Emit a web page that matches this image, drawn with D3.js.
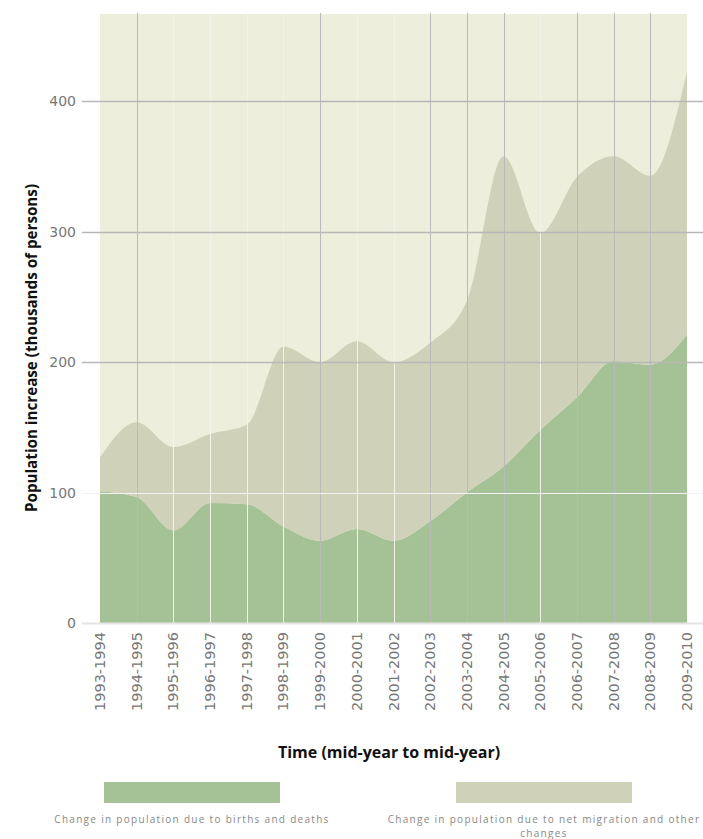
<!DOCTYPE html>
<html><head><meta charset="utf-8">
<script src="https://cdn.jsdelivr.net/npm/d3@7"></script>
<style>html,body{margin:0;padding:0;background:#fff;}svg{display:block;}</style>
</head><body>
<svg id="chart" width="703" height="839"></svg>
<script>
const categories = ["1993-1994","1994-1995","1995-1996","1996-1997","1997-1998","1998-1999","1999-2000","2000-2001","2001-2002","2002-2003","2003-2004","2004-2005","2005-2006","2006-2007","2007-2008","2008-2009","2009-2010"];
const birthsDeaths = [101, 96.5, 71, 92, 91, 74, 63, 72, 63, 78, 100, 120, 148, 173, 201, 198, 221];
const migration   = [26, 57.5, 64, 53, 61, 138, 137, 144, 137, 137, 147, 238, 151, 169, 157, 145, 202];
const yTicks = [0, 100, 200, 300, 400];
const seriesNames = ["Change in population due to births and deaths", "Change in population due to net migration and other changes"];

const colors = {bg:"#edeedb", births:"#a5c296", migr:"#cfd2b8"};
const svg = d3.select("#chart");
const x = d3.scalePoint().domain(categories).range([100, 687]);
const y = d3.scaleLinear().domain([0, 467]).range([623, 14]);

const rows = categories.map((c,i)=>({cat:c, births:birthsDeaths[i], migr:migration[i]}));
const stacked = d3.stack().keys(["births","migr"])(rows);

svg.append("rect").attr("x",100).attr("y",14).attr("width",587).attr("height",609).attr("fill",colors.bg);

const area = d3.area().x((d,i)=>x(categories[i])).y0(d=>y(d[0])).y1(d=>y(d[1])).curve(d3.curveMonotoneX);
svg.selectAll("path.layer").data(stacked).join("path").attr("class","layer")
  .attr("d", area).attr("fill",(d,i)=> i===0?colors.births:colors.migr);

// vertical grid
const greyIdx = new Set([1,6,9,10,11,13,14,15]);
svg.append("g").selectAll("line").data(categories.slice(1,-1)).join("line")
  .attr("x1",d=>Math.round(x(d))+0.5).attr("x2",d=>Math.round(x(d))+0.5)
  .attr("y1",13).attr("y2",623)
  .attr("stroke",(d,i)=> greyIdx.has(i+1)?"#bababa":"#f3f3ea").attr("stroke-width",1);

// horizontal grid
svg.append("g").selectAll("line").data(yTicks).join("line")
  .attr("x1",82).attr("x2",703)
  .attr("y1",d=>Math.round(y(d))+0.5).attr("y2",d=>Math.round(y(d))+0.5)
  .attr("stroke",d=> d===0?"#e4e4e4":(d===100?"#f2f2f2":"#b8b8b8")).attr("stroke-width",d=>d===0?2:(d===100?1:1.4));

// y labels
svg.append("g").selectAll("text").data(yTicks).join("text")
  .attr("x",76).attr("y",d=>y(d)+5).attr("text-anchor","end")
  .attr("font-family","DejaVu Sans").attr("font-size",14).attr("fill","#777")
  .text(d=>d);

// x labels
svg.append("g").selectAll("text").data(categories).join("text")
  .attr("transform",d=>`translate(${x(d)+5},632) rotate(-90)`)
  .attr("text-anchor","end")
  .attr("font-family","DejaVu Sans").attr("font-size",14.5).attr("fill","#777")
  .text(d=>d);

// axis titles
svg.append("text").attr("transform","translate(37,348) rotate(-90)").attr("text-anchor","middle")
  .attr("font-family","Open Sans").attr("font-weight","bold").attr("font-size",15.2).attr("fill","#111")
  .text("Population increase (thousands of persons)");
svg.append("text").attr("x",389).attr("y",758).attr("text-anchor","middle")
  .attr("font-family","Open Sans").attr("font-weight","bold").attr("font-size",16).attr("fill","#111")
  .text("Time (mid-year to mid-year)");

// legend
const leg = [{x:104, c:colors.births, lines:[seriesNames[0]]},{x:456, c:colors.migr, lines:["Change in population due to net migration and other","changes"]}];
leg.forEach(l=>{
  svg.append("rect").attr("x",l.x).attr("y",782).attr("width",176).attr("height",21).attr("fill",l.c);
  l.lines.forEach((t,j)=>{
    svg.append("text").attr("x",l.x+88).attr("y",823+j*14).attr("text-anchor","middle")
      .attr("font-family","Open Sans").attr("font-size",10).attr("letter-spacing",1.3).attr("fill","#888").text(t);
  });
});
</script>
</body></html>
